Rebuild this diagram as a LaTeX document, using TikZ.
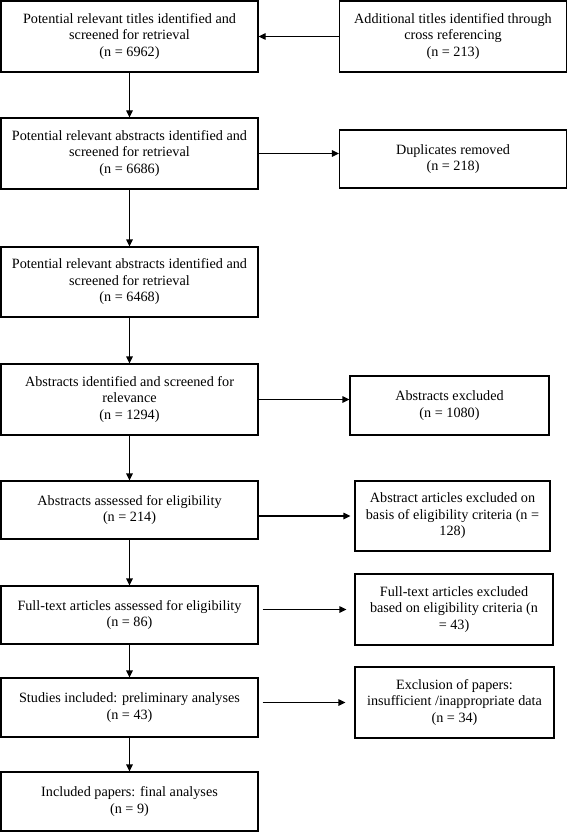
\documentclass[tikz,border=0pt]{standalone}
\usepackage{fontspec}
\setmainfont{Liberation Serif}
\usetikzlibrary{arrows.meta}

\begin{document}
\begin{tikzpicture}[x=1pt, y=-1pt,
		box/.style={draw, rectangle, line width=1.2pt, align=center, inner sep=0pt, font=\fontsize{14.2}{16.5}\selectfont},
		flow/.style={-{Triangle[length=7pt,width=6.5pt]}, line width=1.2pt}]
				\useasboundingbox (0,0) rectangle (568,832);

				% Titles
				\node[box, minimum width=257pt, minimum height=71pt] (titles) at (129.5,36.5) {Potential relevant titles identified and\\screened for retrieval\\(n = 6962)};
				\node[box, minimum width=227pt, minimum height=71pt] (crossref) at (453,36.5) {Additional titles identified through\\cross referencing\\(n = 213)};
				\draw[flow] (crossref) -- (titles);

				% First abstracts
				\node[box, minimum width=257pt, minimum height=71pt] (abstractsA) at (129.5,153.5) {Potential relevant abstracts identified and\\screened for retrieval\\(n = 6686)};
				\node[box, minimum width=227pt, minimum height=58pt] (duplicates) at (453,159) {Duplicates removed\\(n = 218)};
				\draw[flow] (titles) -- (abstractsA);
				\draw[flow] (abstractsA.east) -- (abstractsA.east -| duplicates.west);

				% Second abstracts
				\node[box, minimum width=257pt, minimum height=70pt] (abstractsB) at (129.5,282) {Potential relevant abstracts identified and\\screened for retrieval\\(n = 6468)};
				\draw[flow] (abstractsA) -- (abstractsB);

				% Relevance
				\node[box, minimum width=257pt, minimum height=71pt] (screened) at (129.5,399.5) {Abstracts identified and screened for\\relevance\\(n = 1294)};
				\node[box, minimum width=199pt, minimum height=59pt] (excluded) at (449.5,405.5) {Abstracts excluded\\(n = 1080)};
				\draw[flow] (abstractsB) -- (screened);
				\draw[flow] (screened.east) -- (screened.east -| excluded.west);

				% Eligibility of abstracts
				\node[box, minimum width=257pt, minimum height=58pt] (assessed) at (129.5,510) {Abstracts assessed for eligibility\\(n = 214)};
				\node[box, minimum width=195pt, minimum height=70pt] (critexcl) at (452.5,516) {Abstract articles excluded on\\basis of eligibility criteria (n =\\128)};
				\draw[flow] (screened) -- (assessed);
				\draw[flow, shorten >=4pt] (assessed.east |- critexcl.west) -- (critexcl.west);

				% Full-text
				\node[box, minimum width=257pt, minimum height=58pt] (fulltext) at (129.5,615) {Full-text articles assessed for eligibility\\(n = 86)};
				\node[box, minimum width=198pt, minimum height=71pt] (ftexcl) at (454,609.5) {Full-text articles excluded\\based on eligibility criteria (n\\= 43)};
				\draw[flow] (assessed) -- (fulltext);
				\draw[flow, shorten <=4pt, shorten >=8pt] (fulltext.east |- ftexcl.west) -- (ftexcl.west);

				% Preliminary analyses
				\node[box, minimum width=257pt, minimum height=59pt] (prelim) at (129.5,707.5) {Studies included: preliminary analyses\\(n = 43)};
				\node[box, minimum width=199pt, minimum height=71pt] (insuff) at (454.5,702.5) {Exclusion of papers:\\insufficient /inappropriate data\\(n = 34)};
				\draw[flow] (fulltext) -- (prelim);
				\draw[flow, shorten <=4pt, shorten >=9pt] (prelim.east |- insuff.west) -- (insuff.west);

				% Result
				\node[box, minimum width=257pt, minimum height=59pt] (final) at (129.5,801.5) {Included papers: final analyses\\(n = 9)};
				\draw[flow] (prelim) -- (final);
			\end{tikzpicture}
\end{document}
